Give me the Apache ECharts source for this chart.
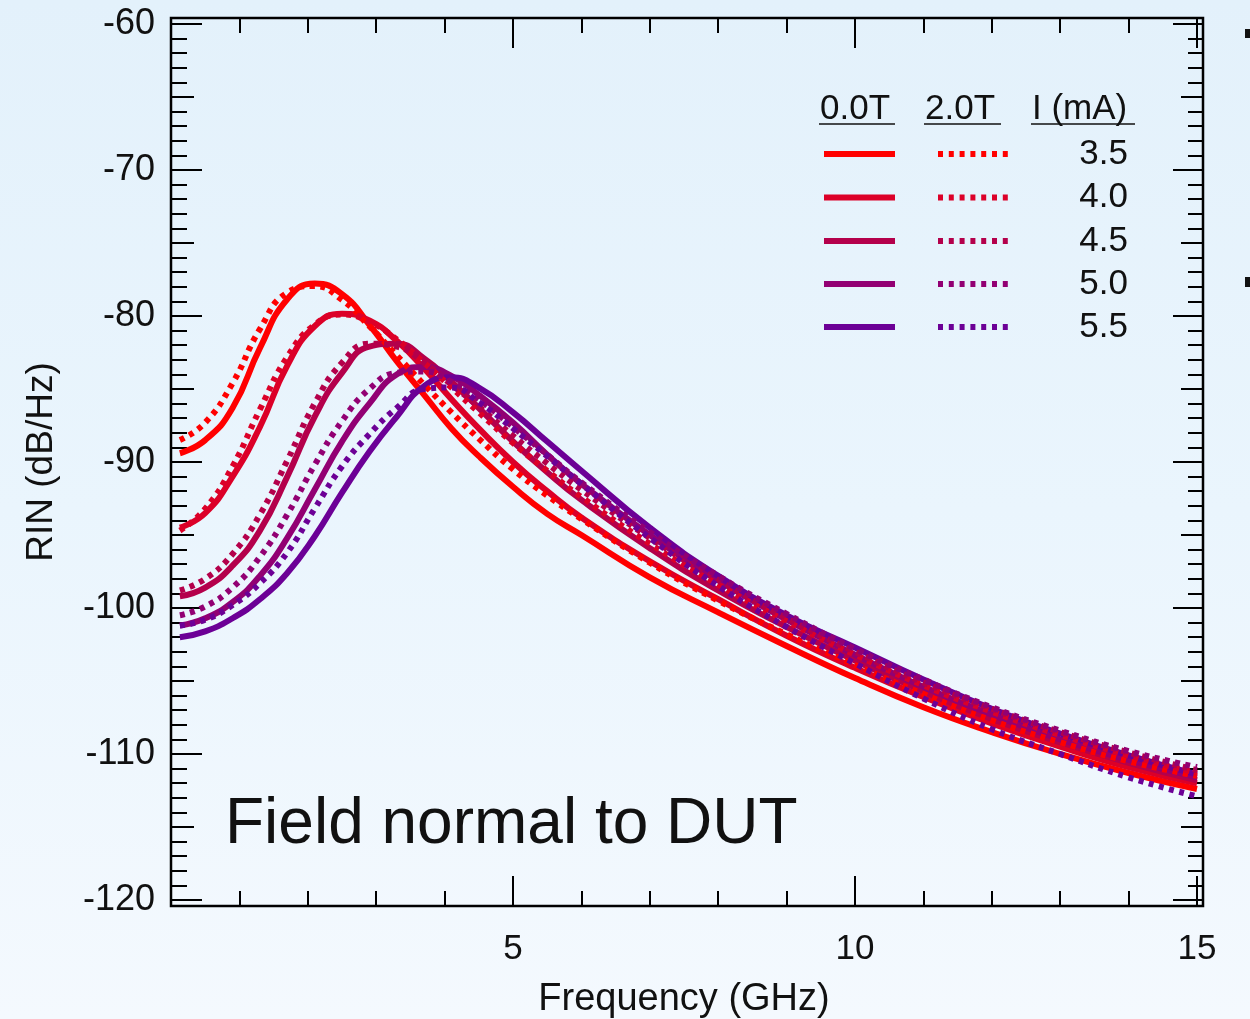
<!DOCTYPE html>
<html>
<head>
<meta charset="utf-8">
<title>RIN vs Frequency</title>
<script src="https://cdn.jsdelivr.net/npm/echarts@6.0.0/dist/echarts.min.js"></script>
<style>
  html, body { margin: 0; padding: 0; }
  body { width: 1250px; height: 1019px; background: linear-gradient(to bottom, #e3f1fb 0%, #eaf5fd 50%, #f4f9fe 100%); }
  #chart { width: 1250px; height: 1019px; }
</style>
</head>
<body>
<div id="chart"></div>
<script>
// Frequency grid (GHz) shared by every trace
const freqGHz = [0.13, 0.5, 0.9, 1.3, 1.7, 2.1, 2.5, 2.9, 3.3, 3.7, 4.1, 4.5, 5.0, 5.5, 6.0, 7.0, 8.0, 9.0, 10.0, 11.0, 12.0, 13.0, 14.0, 15.0];

// Bias currents (mA)
const currents = ['3.5', '4.0', '4.5', '5.0', '5.5'];

// RIN (dB/Hz) at 0.0 T
const rin0T_35 = [-89.4, -88.5, -86.3, -82.2, -78.85, -77.78, -78.5, -80.6, -83.1, -85.4, -87.7, -89.6, -91.7, -93.55, -95.0, -97.9, -100.3, -102.6, -104.8, -106.8, -108.5, -110.0, -111.3, -112.4];
const rin0T_40 = [-94.5, -93.5, -91.0, -87.6, -83.4, -80.7, -79.85, -80.3, -81.7, -83.6, -85.7, -87.7, -90.0, -92.0, -93.8, -96.8, -99.4, -101.9, -104.1, -106.1, -107.9, -109.5, -110.9, -112.0];
const rin0T_45 = [-99.2, -98.6, -97.1, -94.7, -91.0, -86.9, -83.9, -82.1, -81.9, -82.9, -84.5, -86.3, -88.6, -90.7, -92.6, -95.9, -98.8, -101.3, -103.6, -105.7, -107.6, -109.2, -110.6, -111.8];
const rin0T_50 = [-101.2, -100.7, -99.6, -97.8, -95.2, -91.9, -88.6, -86.0, -84.0, -83.5, -84.1, -85.4, -87.3, -89.5, -91.5, -95.0, -98.1, -100.8, -103.2, -105.4, -107.3, -109.0, -110.4, -111.6];
const rin0T_55 = [-102.0, -101.6, -100.7, -99.4, -97.6, -95.1, -92.1, -89.3, -86.9, -84.8, -84.2, -84.9, -86.6, -88.6, -90.6, -94.5, -97.8, -100.5, -102.7, -104.9, -106.9, -108.6, -110.1, -111.4];

// RIN (dB/Hz) at 2.0 T
const rin2T_35 = [-88.5, -87.3, -84.6, -80.9, -78.4, -77.95, -78.9, -80.7, -82.7, -84.7, -86.6, -88.4, -90.5, -92.3, -93.9, -96.9, -99.5, -101.8, -103.9, -105.9, -107.7, -109.2, -110.5, -111.5];
const rin2T_40 = [-94.7, -93.2, -90.3, -86.4, -82.8, -80.6, -79.9, -80.4, -81.6, -83.2, -84.9, -86.6, -88.7, -90.6, -92.4, -95.6, -98.4, -100.9, -103.2, -105.3, -107.1, -108.7, -110.1, -111.3];
const rin2T_45 = [-98.8, -98.0, -96.3, -93.6, -89.9, -86.0, -83.2, -81.9, -82.1, -83.2, -84.7, -86.2, -88.2, -90.1, -91.9, -95.2, -98.1, -100.7, -103.0, -105.1, -106.9, -108.5, -109.9, -111.1];
const rin2T_50 = [-100.5, -99.9, -98.6, -96.5, -93.6, -90.2, -87.2, -85.0, -83.9, -83.8, -84.5, -85.7, -87.6, -89.5, -91.4, -94.8, -97.8, -100.4, -102.8, -104.9, -106.8, -108.4, -109.8, -110.9];
const rin2T_55 = [-101.2, -100.8, -99.8, -98.3, -96.2, -93.2, -90.3, -88.1, -86.3, -85.0, -84.9, -85.9, -87.7, -89.6, -91.5, -95.2, -98.5, -101.3, -103.8, -106.2, -108.3, -110.0, -111.6, -112.9];

// Axis tick labels
const xTickLabels = ['', '5', '10', '15'];

const rin0T = [rin0T_35, rin0T_40, rin0T_45, rin0T_50, rin0T_55];
const rin2T = [rin2T_35, rin2T_40, rin2T_45, rin2T_50, rin2T_55];
const colors = ['#ff0000', '#dc0028', '#b4004b', '#920073', '#6c0096'];

const FONT = '"Liberation Sans", Arial, Helvetica, sans-serif';
const INK = '#111111';
const LINE_W = 6;
const DOTS = [5, 5.5];

const pairs = arr => freqGHz.map((f, i) => [f, arr[i]]);

const series = [];
rin0T.forEach((arr, k) => series.push({
  name: currents[k] + ' mA, 0.0T', type: 'line', data: pairs(arr), smooth: 0.5,
  showSymbol: false, symbol: 'none', z: 3,
  lineStyle: { color: colors[k], width: LINE_W, cap: 'butt' }
}));
rin2T.forEach((arr, k) => series.push({
  name: currents[k] + ' mA, 2.0T', type: 'line', data: pairs(arr), smooth: 0.5,
  showSymbol: false, symbol: 'none', z: 4,
  lineStyle: { color: colors[k], width: LINE_W, type: DOTS, cap: 'butt' }
}));

const tick = (len) => ({ show: true, inside: true, length: len, lineStyle: { color: '#000', width: 2 } });
const minor = (n, len) => ({ show: true, splitNumber: n, length: len, lineStyle: { color: '#000', width: 2 } });

const xBase = {
  type: 'value', min: 0, max: 15, interval: 5, offset: 6,
  axisLine: { show: false }, splitLine: { show: false }, minorSplitLine: { show: false },
  axisTick: tick(30), minorTick: minor(5, 15)
};
const yBase = {
  type: 'value', min: -120, max: -60,
  axisLine: { show: false }, splitLine: { show: false }, minorSplitLine: { show: false }
};

// Custom two-column key: 0.0T solid, 2.0T dotted, current values
const rowY = [154, 197.5, 241, 284, 327];
const legendItems = [
  { type: 'text', left: 820, top: 92, style: { text: '0.0T', font: '35px ' + FONT, fill: INK } },
  { type: 'text', left: 925, top: 92, style: { text: '2.0T', font: '35px ' + FONT, fill: INK } },
  { type: 'text', left: 1032, top: 92, style: { text: 'I (mA)', font: '35px ' + FONT, fill: INK } },
  { type: 'line', shape: { x1: 819, y1: 124, x2: 895, y2: 124 }, style: { stroke: INK, lineWidth: 1.6 } },
  { type: 'line', shape: { x1: 924, y1: 124, x2: 1001, y2: 124 }, style: { stroke: INK, lineWidth: 1.6 } },
  { type: 'line', shape: { x1: 1031, y1: 124, x2: 1135, y2: 124 }, style: { stroke: INK, lineWidth: 1.6 } }
];
currents.forEach((c, k) => {
  const y = rowY[k];
  legendItems.push({ type: 'line', shape: { x1: 824, y1: y, x2: 895, y2: y }, style: { stroke: colors[k], lineWidth: 6 } });
  legendItems.push({ type: 'line', shape: { x1: 938, y1: y, x2: 1008, y2: y }, style: { stroke: colors[k], lineWidth: 6, lineDash: [5, 5.8] } });
  legendItems.push({ type: 'text', x: 1128, y: y, style: { text: c, font: '35px ' + FONT, fill: INK, textAlign: 'right', textVerticalAlign: 'middle', align: 'right', verticalAlign: 'middle' } });
});

const option = {
  backgroundColor: 'transparent',
  animation: false,
  grid: { left: 171, top: 24, width: 1026, height: 876, containLabel: false, outerBoundsMode: 'none' },
  xAxis: [
    Object.assign({}, xBase, {
      position: 'bottom',
      axisLabel: { show: true, formatter: v => xTickLabels[Math.round(v / 5)], fontSize: 35, fontFamily: FONT, color: INK, margin: 26 },
      name: 'Frequency (GHz)', nameLocation: 'middle', nameGap: 75,
      nameTextStyle: { fontSize: 38, fontFamily: FONT, color: INK }
    }),
    Object.assign({}, xBase, { position: 'top', axisLabel: { show: false } })
  ],
  yAxis: [
    Object.assign({}, yBase, {
      position: 'left', interval: 10, axisTick: tick(31), minorTick: minor(10, 16),
      axisLabel: { show: true, fontSize: 36, fontFamily: FONT, color: INK, margin: 16 },
      name: 'RIN (dB/Hz)', nameLocation: 'middle', nameGap: 111, nameRotate: 90,
      nameTextStyle: { fontSize: 37, fontFamily: FONT, color: INK }
    }),
    Object.assign({}, yBase, { position: 'left', interval: 5, axisTick: tick(23), axisLabel: { show: false } }),
    Object.assign({}, yBase, {
      position: 'right', offset: 6, interval: 10, axisTick: tick(30), minorTick: minor(10, 15),
      axisLabel: { show: false }
    }),
    Object.assign({}, yBase, { position: 'right', offset: 6, interval: 5, axisTick: tick(22), axisLabel: { show: false } })
  ],
  series: series,
  graphic: [
    { type: 'rect', z: 100, shape: { x: 171, y: 18, width: 1032, height: 888 }, style: { fill: 'none', stroke: '#000', lineWidth: 2.5 } },
    { type: 'text', z: 100, x: 225, y: 825, style: { text: 'Field normal to DUT', font: '64px ' + FONT, fill: INK, textVerticalAlign: 'middle', verticalAlign: 'middle' } },
    { type: 'rect', z: 100, shape: { x: 1245, y: 29, width: 5, height: 9 }, style: { fill: '#111' } },
    { type: 'rect', z: 100, shape: { x: 1245, y: 277, width: 5, height: 10 }, style: { fill: '#111' } },
    { type: 'group', z: 100, children: legendItems }
  ]
};

const chart = echarts.init(document.getElementById('chart'), null, { renderer: 'canvas' });
chart.setOption(option);
</script>
</body>
</html>
